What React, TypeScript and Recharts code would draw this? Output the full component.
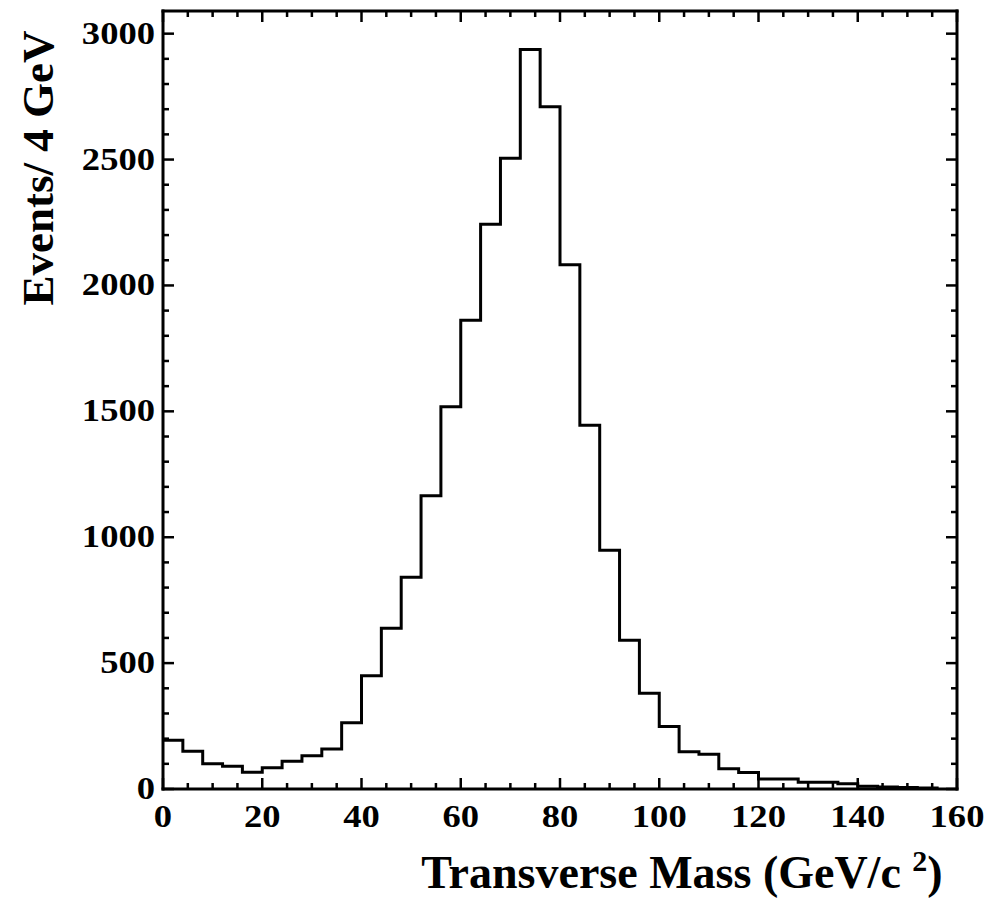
import React from 'react';
import { LineChart, Line, XAxis, YAxis, Customized } from 'recharts';

// Histogram bin lower edges (GeV) and counts per 4 GeV bin
const binStarts = [0, 4, 8, 12, 16, 20, 24, 28, 32, 36, 40, 44, 48, 52, 56, 60, 64, 68, 72, 76, 80, 84, 88, 92, 96, 100, 104, 108, 112, 116, 120, 124, 128, 132, 136, 140, 144, 148, 152, 156];
const counts = [194, 150, 100, 90, 67, 84, 110, 132, 159, 263, 450, 638, 841, 1165, 1518, 1862, 2243, 2505, 2937, 2710, 2082, 1445, 948, 591, 380, 248, 148, 138, 80, 66, 40, 40, 27, 27, 21, 11, 8, 6, 4, 0];

const xMajorLabels = [0, 20, 40, 60, 80, 100, 120, 140, 160];
const yMajorLabels = [0, 500, 1000, 1500, 2000, 2500, 3000];
const xAllTicks = [0, 5, 10, 15, 20, 25, 30, 35, 40, 45, 50, 55, 60, 65, 70, 75, 80, 85, 90, 95, 100, 105, 110, 115, 120, 125, 130, 135, 140, 145, 150, 155, 160];
const yAllTicks = [0, 100, 200, 300, 400, 500, 600, 700, 800, 900, 1000, 1100, 1200, 1300, 1400, 1500, 1600, 1700, 1800, 1900, 2000, 2100, 2200, 2300, 2400, 2500, 2600, 2700, 2800, 2900, 3000];

const data = binStarts.map((x, i) => ({ x, v: counts[i] }));

const FONT = '"Liberation Serif", "Times New Roman", serif';
const MAJ = 11;
const MIN = 6;

function BottomTick(props: any) {
  const { x, y, payload } = props;
  const v = payload.value;
  const major = xMajorLabels.includes(v);
  return (
    <g>
      <line x1={x} x2={x} y1={y} y2={y - (major ? MAJ : MIN)} stroke="#000" strokeWidth={2.5} />
      {major && (
        <text transform={`translate(${x},${y + 38}) scale(1.18,1)`} textAnchor="middle" fontFamily={FONT} fontWeight="bold" fontSize={31} fill="#000">
          {v}
        </text>
      )}
    </g>
  );
}

function TopTick(props: any) {
  const { x, y, payload } = props;
  const major = xMajorLabels.includes(payload.value);
  return <line x1={x} x2={x} y1={y} y2={y + (major ? MAJ : MIN)} stroke="#000" strokeWidth={2.5} />;
}

function LeftTick(props: any) {
  const { x, y, payload } = props;
  const v = payload.value;
  const major = yMajorLabels.includes(v);
  return (
    <g>
      <line x1={x} x2={x + (major ? MAJ : MIN)} y1={y} y2={y} stroke="#000" strokeWidth={2.5} />
      {major && (
        <text transform={`translate(${x - 8},${y + 10}) scale(1.18,1)`} textAnchor="end" fontFamily={FONT} fontWeight="bold" fontSize={31} fill="#000">
          {v}
        </text>
      )}
    </g>
  );
}

function RightTick(props: any) {
  const { x, y, payload } = props;
  const major = yMajorLabels.includes(payload.value);
  return <line x1={x} x2={x - (major ? MAJ : MIN)} y1={y} y2={y} stroke="#000" strokeWidth={2.5} />;
}

const axisLine = { stroke: '#000', strokeWidth: 3, strokeLinecap: 'square' as const };

function Labels() {
  return (
    <g>
      <text transform="translate(45,160) rotate(-90)" textAnchor="middle" fontFamily={FONT} fontWeight="bold" fontSize={45} fill="#000">
        Events/ 4 GeV
      </text>
      <text x={674} y={880} textAnchor="middle" fontFamily={FONT} fontWeight="bold" fontSize={46} fill="#000">
        Transverse Mass (GeV/c <tspan dy={-17} fontSize={30}>2</tspan>
        <tspan dy={17}>)</tspan>
      </text>
    </g>
  );
}

export default function App() {
  return (
    <div style={{ width: 984, height: 890, background: '#fff' }}>
      <LineChart width={984} height={890} data={data} margin={{ top: 2, right: 34, bottom: 0, left: 0 }}>
        <XAxis
          xAxisId="b"
          dataKey="x"
          type="number"
          domain={[0, 160]}
          allowDataOverflow
          ticks={xAllTicks}
          interval={0}
          height={109}
          tickSize={0}
          tickMargin={0}
          tickLine={false}
          axisLine={axisLine}
          tick={<BottomTick />}
        />
        <XAxis
          xAxisId="t"
          orientation="top"
          dataKey="x"
          type="number"
          domain={[0, 160]}
          allowDataOverflow
          ticks={xAllTicks}
          interval={0}
          height={1}
          tickSize={0}
          tickMargin={0}
          tickLine={false}
          axisLine={axisLine}
          tick={<TopTick />}
        />
        <YAxis
          yAxisId="l"
          type="number"
          domain={[0, 3090]}
          allowDataOverflow
          ticks={yAllTicks}
          interval={0}
          width={155}
          tickSize={0}
          tickMargin={0}
          tickLine={false}
          axisLine={axisLine}
          tick={<LeftTick />}
        />
        <YAxis
          yAxisId="r"
          orientation="right"
          type="number"
          domain={[0, 3090]}
          allowDataOverflow
          ticks={yAllTicks}
          interval={0}
          width={1}
          tickSize={0}
          tickMargin={0}
          tickLine={false}
          axisLine={axisLine}
          tick={<RightTick />}
        />
        <Line
          xAxisId="b"
          yAxisId="l"
          type="stepAfter"
          dataKey="v"
          stroke="#000"
          strokeWidth={3}
          dot={false}
          activeDot={false}
          isAnimationActive={false}
        />
        <Customized component={Labels} />
      </LineChart>
    </div>
  );
}
